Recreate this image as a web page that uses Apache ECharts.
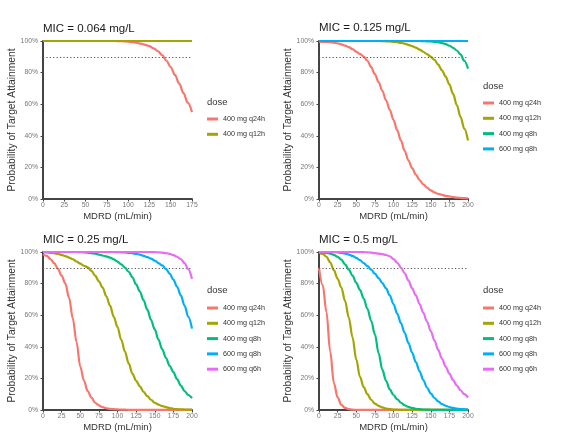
<!DOCTYPE html>
<html><head><meta charset="utf-8">
<script src="https://cdn.jsdelivr.net/npm/echarts/dist/echarts.min.js"></script>
<style>html,body{margin:0;padding:0;background:#fff}#c{width:570px;height:442px}</style>
</head><body><div id="c"></div>
<script>
// ---------------- data ----------------
const mdrd = [0,5,10,15,20,25,30,35,40,45,50,55,60,65,70,75,80,85,90,95,100,105,110,115,120,125,130,135,140,145,150,155,160,165,170,175,180,185,190,195,200];
const xTicks = [0,25,50,75,100,125,150,175,200];
const yTicks = [0,20,40,60,80,100];
const target = 90;
const doses = ['400 mg q24h','400 mg q12h','400 mg q8h','600 mg q8h','600 mg q6h'];
const micLabels = ['MIC = 0.064 mg/L','MIC = 0.125 mg/L','MIC = 0.25 mg/L','MIC = 0.5 mg/L'];
const panelXMax = [175,200,200,200];
const panelDoseCount = [2,4,5,5];

// MIC = 0.064 (MDRD 0..175)
const mic064_q24h = [100,100,100,100,100,100,100,100,100,100,100,100,100,100,100,100,100,100,99.9,99.8,99.6,99.3,98.9,98.3,97.6,96.7,95.3,93.5,91,87.5,83.5,78.5,73,67,61,55];
const mic064_q12h = [100,100,100,100,100,100,100,100,100,100,100,100,100,100,100,100,100,100,100,100,100,100,100,100,100,100,100,100,100,100,100,100,100,100,100,100];

// MIC = 0.125
const mic125_q24h = [99.6,99.5,99.4,99.2,98.9,98.5,97.9,97.1,96.1,94.8,93.3,91.8,90.2,87.5,83.5,79,74,68.5,62.5,56.5,50,43.5,37,30.5,24.5,19.5,15.5,12,9.3,7.2,5.5,4.2,3.3,2.6,2,1.6,1.2,0.9,0.7,0.5,0.4];
const mic125_q12h = [100,100,100,100,100,100,100,100,100,100,100,100,100,100,100,100,100,99.9,99.8,99.7,99.5,99.2,98.8,98.3,97.6,96.8,95.8,94.6,93.2,91.7,90.1,88,85,81.5,77.5,72.5,66.5,59.5,52,44.5,37];
const mic125_q8h400 = [100,100,100,100,100,100,100,100,100,100,100,100,100,100,100,100,100,100,100,100,100,100,100,100,100,100,100,100,99.9,99.8,99.7,99.5,99.2,98.7,98,97,95.7,94,91.5,87.5,82.5];
const mic125_q8h600 = [100,100,100,100,100,100,100,100,100,100,100,100,100,100,100,100,100,100,100,100,100,100,100,100,100,100,100,100,100,100,100,100,100,100,100,100,100,100,100,100,100];

// MIC = 0.25
const mic25_q24h = [98.5,97.5,95.5,93,89.5,85,80,71,58,43,27.5,18.5,12,7.8,4.6,2.9,1.8,1.1,0.7,0.5,0.35,0.25,0.2,0.1,0.1,0.1,0.1,0.1,0.1,0.1,0.1,0.1,0.1,0.1,0.1,0.1,0.1,0.1,0.1,0.1,0.1];
const mic25_q12h = [99.8,99.7,99.5,99.2,98.8,98.2,97.4,96.5,95.4,94,92.6,91.3,90.3,88,85,81.5,77.5,72,66,59,52.5,44.5,37,29.5,23,18.5,15,11.5,8.8,6.5,4.6,3.4,2.5,1.8,1.2,0.8,0.5,0.4,0.3,0.2,0.2];
const mic25_q8h400 = [100,100,100,100,100,100,100,100,100,100,99.9,99.8,99.6,99.3,98.9,98.4,97.8,97.2,96.5,95.3,93.9,92.2,90.2,87.5,84,79.5,75,69.5,63.5,57,51,44.5,38.5,33,28,24,19.5,15.5,12,9.5,7.5];
const mic25_q8h600 = [100,100,100,100,100,100,100,100,100,100,100,100,100,100,100,100,100,100,100,100,99.9,99.8,99.7,99.5,99.2,98.8,98.3,97.6,96.8,95.8,94.6,93,91.5,89.3,86.3,82.5,78,72.5,66,59,51.5];
const mic25_q6h600 = [100,100,100,100,100,100,100,100,100,100,100,100,100,100,100,100,100,100,100,100,100,100,100,100,100,100,100,100,100,100,99.9,99.8,99.6,99.3,98.8,98,97,95.5,93,89,83];

// MIC = 0.5
const mic5_q24h = [90,79,62,37,17,8,3.2,1.3,0.5,0.2,0.1,0.1,0.1,0.1,0.1,0.1,0.1,0.1,0.1,0.1,0.1,0.1,0.1,0.1,0.1,0.1,0.1,0.1,0.1,0.1,0.1,0.1,0.1,0.1,0.1,0.1,0.1,0.1,0.1,0.1,0.1];
const mic5_q12h = [99.5,98.8,97,93.5,88.5,83,77.5,69,58.5,46,32,21,14.5,10,6.5,4,2.6,1.6,0.9,0.5,0.3,0.2,0.1,0.1,0.1,0.1,0.1,0.1,0.1,0.1,0.1,0.1,0.1,0.1,0.1,0.1,0.1,0.1,0.1,0.1,0.1];
const mic5_q8h400 = [99.8,99.7,99.4,99,98.2,97,95.2,92.2,88.8,85,80.5,76,70.5,64,56.5,48,36,25.5,18.5,13,9.5,6.8,4.6,3,2,1.3,0.8,0.5,0.3,0.2,0.15,0.1,0.1,0.1,0.1,0.1,0.1,0.1,0.1,0.1,0.1];
const mic5_q8h600 = [100,100,100,100,99.9,99.8,99.5,99,98.4,97.5,96.3,94.8,93,91,88.8,86.3,83.5,80.3,77,72.5,67,61,55,48.8,42.5,36.3,30.3,24.5,19,14.2,10.5,7.6,5.4,3.8,2.7,1.9,1.3,0.9,0.6,0.4,0.3];
const mic5_q6h600 = [100,100,100,100,100,100,100,100,100,100,100,100,99.9,99.8,99.6,99.3,99,98.6,98.1,97.3,95.5,93.2,90.2,86.5,82,77,72.5,67,61.5,56,50,44,38,32.5,27.5,23,19,15.5,12.5,10,7.8];

const panelSeries = [
  [mic064_q24h, mic064_q12h],
  [mic125_q24h, mic125_q12h, mic125_q8h400, mic125_q8h600],
  [mic25_q24h, mic25_q12h, mic25_q8h400, mic25_q8h600, mic25_q6h600],
  [mic5_q24h, mic5_q12h, mic5_q8h400, mic5_q8h600, mic5_q6h600]
];

// ---------------- style / layout ----------------
const doseColors = ['#F8766D','#A3A500','#00BF7D','#00B0F6','#E76BF3'];
const FF = '"Liberation Sans", Arial, Helvetica, sans-serif';
const grids = [
  {left: 43, top: 41, width: 149, height: 158},
  {left: 319, top: 41, width: 149, height: 158},
  {left: 43, top: 252, width: 149, height: 158},
  {left: 319, top: 252, width: 149, height: 158}
];
const titlePos = [[43, 22], [319, 21], [43, 233], [319, 233]];
const dosePos = [[207, 96], [483, 80], [207, 284], [483, 284]];
const legendPos = [[207, 114], [483, 98], [207, 303], [483, 303]];

const option = {
  animation: false,
  backgroundColor: '#fff',
  title: [],
  legend: [],
  grid: grids.map(g => Object.assign({containLabel: false}, g)),
  xAxis: [], yAxis: [], series: []
};

for (let p = 0; p < 4; p++) {
  option.title.push({text: micLabels[p], left: titlePos[p][0], top: titlePos[p][1], padding: 0,
    textStyle: {fontFamily: FF, fontSize: 11.5, fontWeight: 'normal', color: '#1a1a1a', lineHeight: 14}});
  option.title.push({text: 'dose', left: dosePos[p][0], top: dosePos[p][1], padding: 0,
    textStyle: {fontFamily: FF, fontSize: 9.5, fontWeight: 'normal', color: '#333', lineHeight: 12}});
  const names = doses.slice(0, panelDoseCount[p]);
  option.legend.push({
    orient: 'vertical', left: legendPos[p][0], top: legendPos[p][1], padding: 0,
    icon: 'rect', itemWidth: 11, itemHeight: 3, itemGap: 5.3, selectedMode: false,
    textStyle: {fontFamily: FF, fontSize: 7.2, color: '#333', lineHeight: 10},
    data: names
  });
  const xMax = panelXMax[p];
  option.xAxis.push({
    type: 'value', gridIndex: p, min: xTicks[0], max: xMax, interval: xTicks[1] - xTicks[0],
    name: 'MDRD (mL/min)', nameLocation: 'middle', nameGap: 12,
    nameTextStyle: {fontFamily: FF, fontSize: 9.5, color: '#333'},
    axisLine: {show: true, onZero: false, lineStyle: {color: '#444', width: 2}},
    axisTick: {show: true, length: 2.5, lineStyle: {color: '#444', width: 1}},
    axisLabel: {margin: 3, fontFamily: FF, fontSize: 6.8, color: '#777'},
    splitLine: {show: false}
  });
  option.yAxis.push({
    type: 'value', gridIndex: p, min: yTicks[0], max: yTicks[yTicks.length - 1], interval: yTicks[1] - yTicks[0],
    name: 'Probability of Target Attainment', nameLocation: 'middle', nameGap: 24,
    nameTextStyle: {fontFamily: FF, fontSize: 10.3, color: '#333'},
    axisLine: {show: true, onZero: false, lineStyle: {color: '#444', width: 2}},
    axisTick: {show: true, length: 2.5, lineStyle: {color: '#444', width: 1}},
    axisLabel: {margin: 5, fontFamily: FF, fontSize: 6.8, color: '#777', formatter: '{value}%'},
    splitLine: {show: false}
  });
  const xs = mdrd.filter(x => x <= xMax);
  panelSeries[p].forEach((arr, k) => {
    const s = {
      type: 'line', name: doses[k], xAxisIndex: p, yAxisIndex: p,
      data: xs.map((x, j) => [x, arr[j]]),
      showSymbol: false, symbol: 'none', smooth: 0.35, smoothMonotone: 'x', clip: false,
      lineStyle: {color: doseColors[k], width: 2.2}, itemStyle: {color: doseColors[k]},
      emphasis: {disabled: true}, silent: true, z: 3 + k
    };
    if (k === 0) {
      s.markLine = {silent: true, symbol: ['none', 'none'], label: {show: false},
        lineStyle: {color: '#555', type: [1.2, 2.2], width: 1},
        emphasis: {disabled: true}, data: [{yAxis: target}]};
    }
    option.series.push(s);
  });
}

const chart = echarts.init(document.getElementById('c'), null, {renderer: 'canvas'});
chart.setOption(option);
</script>
</body></html>
